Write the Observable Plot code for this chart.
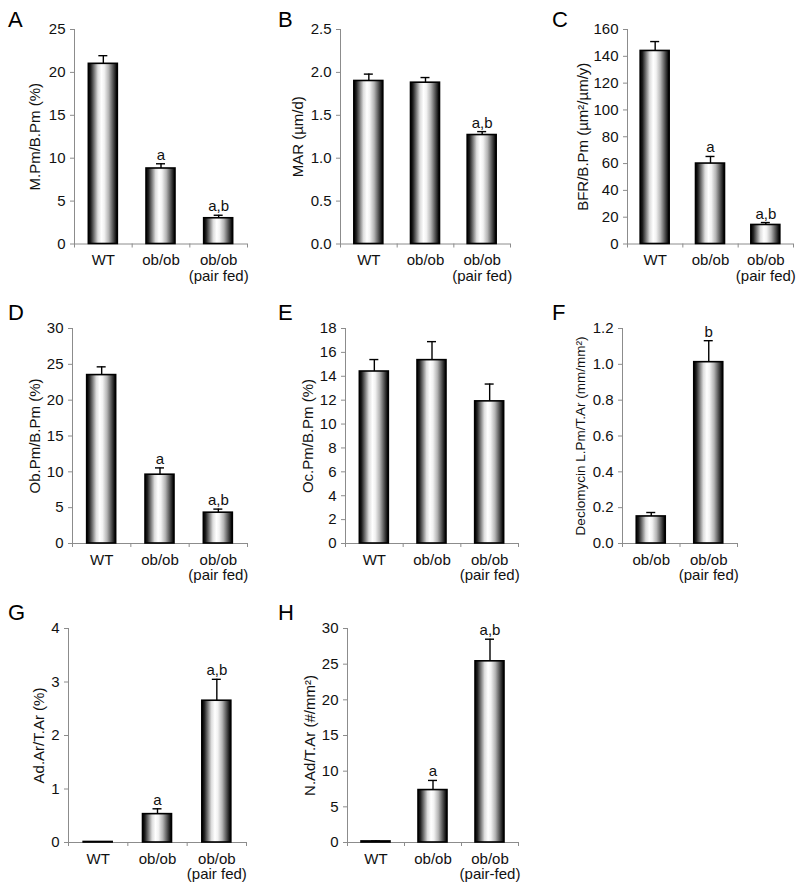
<!DOCTYPE html>
<html>
<head>
<meta charset="utf-8">
<script src="https://cdn.jsdelivr.net/npm/d3@7"></script>
<script src="https://cdn.jsdelivr.net/npm/@observablehq/plot@0.6"></script>
<style>
  html, body { margin: 0; padding: 0; background: #fff; }
  #page { position: relative; width: 800px; height: 889px; overflow: hidden; background: #fff;
          font-family: Arial, "Liberation Sans", sans-serif; }
  .panel { position: absolute; }
  .letter { position: absolute; font-size: 22px; line-height: 1; color: #000; }
</style>
</head>
<body>
<div id="page">
  <svg width="0" height="0" style="position:absolute">
    <defs>
      <linearGradient id="cyl" x1="0" x2="1" y1="0" y2="0">
        <stop offset="0" stop-color="#000"/>
        <stop offset="0.08" stop-color="#1c1c1c"/>
        <stop offset="0.2" stop-color="#777"/>
        <stop offset="0.33" stop-color="#ddd"/>
        <stop offset="0.45" stop-color="#fff"/>
        <stop offset="0.55" stop-color="#f2f2f2"/>
        <stop offset="0.7" stop-color="#b5b5b5"/>
        <stop offset="0.85" stop-color="#555"/>
        <stop offset="0.95" stop-color="#151515"/>
        <stop offset="1" stop-color="#000"/>
      </linearGradient>
    </defs>
  </svg>
</div>
<script>
// ---- data ----
const groups3 = ["WT", "ob/ob", "ob/ob\n(pair fed)"];
const groupsF = ["ob/ob", "ob/ob\n(pair fed)"];
const groupsH = ["WT", "ob/ob", "ob/ob\n(pair-fed)"];

const meanA = [21.0, 8.8, 3.0];    const semA = [0.95, 0.55, 0.35];  const sigA = ["", "a", "a,b"];
const meanB = [1.90, 1.88, 1.27];  const semB = [0.08, 0.06, 0.04];  const sigB = ["", "", "a,b"];
const meanC = [144, 60, 14.2];     const semC = [7, 5.3, 1.8];       const sigC = ["", "a", "a,b"];
const meanD = [23.5, 9.6, 4.3];    const semD = [1.15, 0.95, 0.5];   const sigD = ["", "a", "a,b"];
const meanE = [14.4, 15.35, 11.9]; const semE = [1.0, 1.55, 1.45];   const sigE = ["", "", ""];
const meanF = [0.151, 1.012];      const semF = [0.022, 0.12];       const sigF = ["", "b"];
const meanG = [0.01, 0.53, 2.65];  const semG = [0, 0.1, 0.4];       const sigG = ["", "a", "a,b"];
const meanH = [0.15, 7.35, 25.4];  const semH = [0.05, 1.35, 3.1];   const sigH = ["", "a", "a,b"];

const ticksA = [0, 5, 10, 15, 20, 25];
const ticksB = [0, 0.5, 1.0, 1.5, 2.0, 2.5];
const ticksC = [0, 20, 40, 60, 80, 100, 120, 140, 160];
const ticksD = [0, 5, 10, 15, 20, 25, 30];
const ticksE = [0, 2, 4, 6, 8, 10, 12, 14, 16, 18];
const ticksF = [0, 0.2, 0.4, 0.6, 0.8, 1.0, 1.2];
const ticksG = [0, 1, 2, 3, 4];
const ticksH = [0, 5, 10, 15, 20, 25, 30];

const labelA = "M.Pm/B.Pm (%)";
const labelB = "MAR (µm/d)";
const labelC = "BFR/B.Pm (µm²/µm/y)";
const labelD = "Ob.Pm/B.Pm (%)";
const labelE = "Oc.Pm/B.Pm (%)";
const labelF = "Declomycin L.Pm/T.Ar (mm/mm²)";
const labelG = "Ad.Ar/T.Ar (%)";
const labelH = "N.Ad/T.Ar (#/mm²)";

// ---- layout (pixel positions of each panel) ----
const panels = [
  {letter: "A", lx: 8,   ly: 9,   x0: 74,  x1: 247, yTop: 28.5, yZero: 243, lab: 39, lfs: 15, groups: groups3, mean: meanA, sem: semA, sig: sigA, ticks: ticksA, label: labelA, fmt: d3.format("d")},
  {letter: "B", lx: 278, ly: 9,   x0: 340, x1: 510, yTop: 28.5, yZero: 243, lab: 42, lfs: 15, groups: groups3, mean: meanB, sem: semB, sig: sigB, ticks: ticksB, label: labelB, fmt: d3.format(".1f")},
  {letter: "C", lx: 552, ly: 9,   x0: 627, x1: 793, yTop: 28.5, yZero: 243, lab: 44, lfs: 15, groups: groups3, mean: meanC, sem: semC, sig: sigC, ticks: ticksC, label: labelC, fmt: d3.format("d")},
  {letter: "D", lx: 8,   ly: 302, x0: 72,  x1: 247, yTop: 328,  yZero: 543, lab: 37, lfs: 15, groups: groups3, mean: meanD, sem: semD, sig: sigD, ticks: ticksD, label: labelD, fmt: d3.format("d")},
  {letter: "E", lx: 278, ly: 302, x0: 345, x1: 518, yTop: 328,  yZero: 543, lab: 37, lfs: 15, groups: groups3, mean: meanE, sem: semE, sig: sigE, ticks: ticksE, label: labelE, fmt: d3.format("d")},
  {letter: "F", lx: 552, ly: 302, x0: 622, x1: 737, yTop: 328,  yZero: 543, lab: 42, lfs: 13.5, groups: groupsF, mean: meanF, sem: semF, sig: sigF, ticks: ticksF, label: labelF, fmt: d3.format(".1f")},
  {letter: "G", lx: 8,   ly: 602, x0: 68,  x1: 246, yTop: 628,  yZero: 842, lab: 29, lfs: 15, groups: groups3, mean: meanG, sem: semG, sig: sigG, ticks: ticksG, label: labelG, fmt: d3.format("d")},
  {letter: "H", lx: 278, ly: 602, x0: 347, x1: 518, yTop: 628,  yZero: 842, lab: 37, lfs: 15, groups: groupsH, mean: meanH, sem: semH, sig: sigH, ticks: ticksH, label: labelH, fmt: d3.format("d")}
];

const page = document.getElementById("page");
const mL = 75, mR = 12, mT = 12, mB = 50;
const axisGrey = "#8c8c8c";
const FS = 15;

for (const p of panels) {
  const n = p.groups.length;
  const data = p.groups.map((g, i) => ({i, g, v: p.mean[i], e: p.sem[i], s: p.sig[i]}));
  const band = (p.x1 - p.x0) / n;
  const hw = 14.5 / band;   // half bar width in domain units
  const cw = 4.5 / band;    // half cap width
  const ymax = p.ticks[p.ticks.length - 1];
  const W = (p.x1 - p.x0) + mL + mR;
  const H = (p.yZero - p.yTop) + mT + mB;

  const chart = Plot.plot({
    width: W, height: H,
    marginLeft: mL, marginRight: mR, marginTop: mT, marginBottom: mB,
    x: {domain: [-0.5, n - 0.5], axis: null},
    y: {domain: [0, ymax], axis: null},
    style: {fontFamily: "Arial, 'Liberation Sans', sans-serif", fontSize: FS + "px", background: "transparent", overflow: "visible", color: "#000"},
    marks: [
      Plot.axisY({ticks: p.ticks, tickFormat: p.fmt, tickSize: 4, tickPadding: 5, stroke: axisGrey, fill: "#111", fontSize: FS, label: null}),
      Plot.ruleX([-0.5], {stroke: axisGrey, insetBottom: -4}),
      Plot.ruleY([0], {stroke: axisGrey}),
      Plot.axisX({ticks: d3.range(0.5, n), tickSize: 4, tickFormat: () => "", stroke: axisGrey, label: null}),
      Plot.axisX({ticks: d3.range(n), tickSize: 0, tickPadding: 10, tickFormat: i => p.groups[i], lineHeight: 1.05, fill: "#111", fontSize: FS, label: null}),
      Plot.rectY(data, {x1: d => d.i - hw, x2: d => d.i + hw, y: "v", fill: "url(#cyl)", stroke: "#000", strokeWidth: 1.6}),
      Plot.ruleX(data.filter(d => d.e > 0), {x: "i", y1: "v", y2: d => d.v + d.e, stroke: "#000", strokeWidth: 1.4}),
      Plot.ruleY(data.filter(d => d.e > 0), {y: d => d.v + d.e, x1: d => d.i - cw, x2: d => d.i + cw, stroke: "#000", strokeWidth: 1.4}),
      Plot.text(data.filter(d => d.s), {x: "i", y: d => d.v + d.e, text: "s", lineAnchor: "bottom", dy: -4, fontSize: FS, fill: "#111"}),
      Plot.text([p.label], {frameAnchor: "left", textAnchor: "middle", lineAnchor: "middle", rotate: -90, dx: -p.lab, fontSize: p.lfs, fill: "#111"})
    ]
  });
  chart.classList.add("panel");
  chart.style.left = (p.x0 - mL) + "px";
  chart.style.top = (p.yTop - mT) + "px";
  page.appendChild(chart);

  const L = document.createElement("div");
  L.className = "letter";
  L.textContent = p.letter;
  L.style.left = p.lx + "px";
  L.style.top = p.ly + "px";
  page.appendChild(L);
}
</script>
</body>
</html>
